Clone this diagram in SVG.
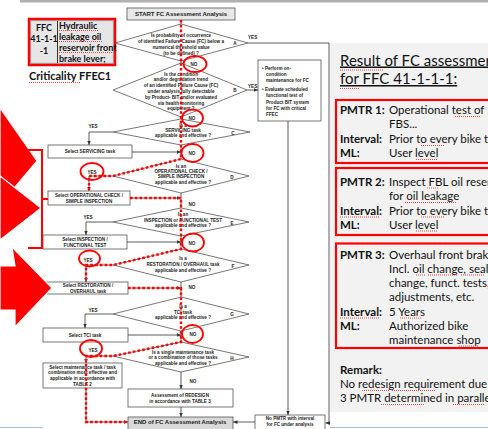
<svg xmlns="http://www.w3.org/2000/svg" width="488" height="429" viewBox="0 0 488 429">
<defs>
<marker id="arr" markerUnits="userSpaceOnUse" markerWidth="4.5" markerHeight="4.5" viewBox="0 0 6 6" refX="6" refY="3" orient="auto"><path d="M0,0.5 L6,3 L0,5.5z" fill="#333"/></marker>
<style>
.fc{font-family:"Liberation Sans",Arial,sans-serif;font-size:4.6px;font-weight:bold;fill:#222;text-anchor:middle}
.st{text-anchor:start}
.big{font-size:6px}
.box{fill:#fff;stroke:#555;stroke-width:0.8}
.dia{fill:#fff;stroke:#555;stroke-width:0.8}
.ln{fill:none;stroke:#333;stroke-width:0.8}
.red{fill:none;stroke:#f00;stroke-width:2.4;stroke-dasharray:2.6 2.2}
.ring{fill:none;stroke:#f00;stroke-width:1.8}
.pan{font-family:Lato,"Liberation Sans",sans-serif;font-size:11.5px;fill:#111}
.head{font-size:15px;text-decoration:underline}
.b{font-weight:bold}
.frame{fill:none;stroke:#f00;stroke-width:2.2}
.sp{fill:none;stroke:#e33;stroke-width:0.9;stroke-dasharray:1 1}
</style>
</defs>
<rect width="488" height="429" fill="#fff"/>
<rect x="20" y="0" width="468" height="2.5" fill="#b0b0b0"/>

<!-- flowchart nodes -->
<g id="start"><rect class="box" x="127" y="8" width="108" height="12" style="fill:#e8e8e8"/><text class="fc big" x="181" y="16.3">START  FC Assessment Analysis</text></g>

<g id="decA"><polygon class="dia" points="181,24 248,43 181,61 115,43"/>
<text class="fc" x="181" y="36.6">Is probability of occurrence</text>
<text class="fc" x="181" y="42.6">of identified Failure Cause (FC) below a</text>
<text class="fc" x="181" y="48.6">numerical threshold value</text>
<text class="fc" x="181" y="54.6">(to be defined) ?</text>
<text class="fc" x="235" y="44.6">A</text></g>

<g id="decB"><polygon class="dia" points="181,63 247,90 181,117 113,90"/>
<text class="fc" x="181" y="75.6">Is the condition</text>
<text class="fc" x="181" y="81.4">and/or degradation trend</text>
<text class="fc" x="181" y="87.2">of an identified Failure Cause (FC)</text>
<text class="fc" x="181" y="93">under analysis fully detectable</text>
<text class="fc" x="181" y="98.8">by Product- BIT and/or evaluated</text>
<text class="fc" x="181" y="104.6">via health monitoring</text>
<text class="fc" x="181" y="110.4">equipment ?</text>
<text class="fc" x="235" y="91.6">B</text></g>

<g id="onCondition"><rect class="box" x="258" y="60" width="63" height="61"/>
<text class="fc st" x="262" y="69.9">• Perform on-</text>
<text class="fc st" x="266" y="75.6">condition</text>
<text class="fc st" x="266" y="81.6">maintenance for FC</text>
<text class="fc st" x="262" y="90.9">• Evaluate scheduled</text>
<text class="fc st" x="266" y="97.4">functional test of</text>
<text class="fc st" x="266" y="103.6">Product BIT system</text>
<text class="fc st" x="266" y="109.6">for FC with critical</text>
<text class="fc st" x="266" y="115.6">FFEC</text></g>

<g id="decC"><polygon class="dia" points="181,119 250,132 181,145 113,132"/>
<text class="fc" x="183" y="126.6">Is a</text>
<text class="fc" x="183" y="131.6">SERVICING task</text>
<text class="fc" x="183" y="137.1">applicable  and effective  ?</text>
<text class="fc" x="233" y="134.6">C</text></g>

<g id="servicing"><rect class="box" x="48" y="145" width="84" height="13"/><text class="fc" x="90" y="153.2">Select SERVICING task</text></g>

<g id="decD"><polygon class="dia" points="181,159 249,176 181,193 113,176"/>
<text class="fc" x="181" y="167.6">Is an</text>
<text class="fc" x="181" y="172.6">OPERATIONAL CHECK /</text>
<text class="fc" x="181" y="178.1">SIMPLE INSPECTION</text>
<text class="fc" x="183" y="183.6">applicable  and effective  ?</text>
<text class="fc" x="232" y="178.6">D</text></g>

<g id="operational"><rect class="box" x="48" y="191" width="82" height="14"/>
<text class="fc" x="89" y="196.6">Select OPERATIONAL CHECK /</text>
<text class="fc" x="89" y="202.6">SIMPLE INSPECTION</text></g>

<g id="decE"><polygon class="dia" points="181,208 249,222 181,236 113,222"/>
<text class="fc" x="183" y="215.6">Is an</text>
<text class="fc" x="183" y="221.6">INSPECTION or FUNCTIONAL TEST</text>
<text class="fc" x="183" y="226.6">applicable  and effective  ?</text>
<text class="fc" x="232" y="224.6">E</text></g>

<g id="inspection"><rect class="box" x="43" y="235" width="84" height="14"/>
<text class="fc" x="85" y="240.6">Select INSPECTION /</text>
<text class="fc" x="85" y="246.6">FUNCTIONAL  TEST</text></g>

<g id="decF"><polygon class="dia" points="181,249 249,265 181,282 113,265"/>
<text class="fc" x="183" y="259.6">Is a</text>
<text class="fc" x="183" y="265.6">RESTORATION / OVERHAUL task</text>
<text class="fc" x="183" y="271.6">applicable  and effective  ?</text>
<text class="fc" x="233" y="267.6">F</text></g>

<g id="restoration"><rect class="box" x="47" y="282" width="81" height="12"/>
<text class="fc" x="88" y="287.4">Select RESTORATION /</text>
<text class="fc" x="88" y="293">OVERHAUL task</text></g>

<g id="decG"><polygon class="dia" points="181,297 249,314 181,331 113,314"/>
<text class="fc" x="183" y="307.6">Is a</text>
<text class="fc" x="183" y="313.6">TCI  task</text>
<text class="fc" x="183" y="318.6">applicable  and effective  ?</text>
<text class="fc" x="232" y="315.6">G</text></g>

<g id="tci"><rect class="box" x="43" y="328" width="85" height="14"/><text class="fc" x="85" y="336.6">Select TCI  task</text></g>

<g id="decH"><polygon class="dia" points="181,342 249,357 181,372 113,356"/>
<text class="fc" x="183" y="353.6">Is a single maintenance task</text>
<text class="fc" x="183" y="359.1">or a combination of those tasks</text>
<text class="fc" x="183" y="364.6">applicable  and effective  ?</text>
<text class="fc" x="232" y="359.6">H</text></g>

<g id="selectCombination"><rect class="box" x="43" y="363" width="79" height="25"/>
<text class="fc" x="82.5" y="368.6">Select maintenance task / task</text>
<text class="fc" x="82.5" y="374.4">combination most effective and</text>
<text class="fc" x="82.5" y="380.1">applicable in accordance with</text>
<text class="fc" x="82.5" y="385.8">TABLE 2</text></g>

<g id="redesign"><rect class="box" x="128" y="389" width="105" height="18"/>
<text class="fc" x="180" y="397.4">Assessment  of REDESIGN</text>
<text class="fc" x="180" y="403">in accordance with TABLE 3</text></g>

<g id="end"><rect class="box" x="128" y="417" width="105" height="16" style="fill:#d9d9d9"/><text class="fc big" x="180" y="424.3">END of FC Assessment Analysis</text></g>

<g id="noPmtr"><rect class="box" x="255" y="415" width="70" height="20"/>
<text class="fc" x="290" y="419.6">No PMTR with interval</text>
<text class="fc" x="290" y="426">for FC under analysis</text></g>

<!-- connectors -->
<g id="connectors">
<path class="ln" d="M181,20 V24 M181,61 V63 M181,117 V119 M181,145 V159 M181,193 V208 M181,236 V249 M181,282 V297 M181,331 V342"/>
<path class="ln" d="M248,43 H329 V423 H325.5" marker-end="url(#arr)"/>
<path class="ln" d="M247,90 H258" marker-end="url(#arr)"/>
<path class="ln" d="M288,121 V415" marker-end="url(#arr)"/>
<path class="ln" d="M113,132 H89 V145" marker-end="url(#arr)"/>
<path class="ln" d="M132,152 H181" marker-end="url(#arr)"/>
<path class="ln" d="M113,176 H89 V191" marker-end="url(#arr)"/>
<path class="ln" d="M130,198 H181" marker-end="url(#arr)"/>
<path class="ln" d="M113,222 H86 V235" marker-end="url(#arr)"/>
<path class="ln" d="M127,242 H181" marker-end="url(#arr)"/>
<path class="ln" d="M113,265 H86 V282" marker-end="url(#arr)"/>
<path class="ln" d="M128,288 H181" marker-end="url(#arr)"/>
<path class="ln" d="M113,314 H85 V328" marker-end="url(#arr)"/>
<path class="ln" d="M128,335 H181" marker-end="url(#arr)"/>
<path class="ln" d="M113,356 H86 V363" marker-end="url(#arr)"/>
<path class="ln" d="M181,372 V389" marker-end="url(#arr)"/>
<path class="ln" d="M181,407 V417" marker-end="url(#arr)"/>
<path class="ln" d="M86,388 V422 H128" marker-end="url(#arr)"/>
<path class="ln" d="M255,422 H233" marker-end="url(#arr)"/>
<text class="fc st" x="248" y="38.6">YES</text>
<text class="fc st" x="248" y="87.6">YES</text>
<text class="fc" x="93" y="127.6">YES</text>
<text class="fc" x="88" y="218.6">YES</text>
<text class="fc" x="93" y="311.6">YES</text>
<text class="fc" x="192" y="205.6">NO</text>
<text class="fc" x="192" y="288.6">NO</text>
<text class="fc" x="193" y="382.6">NO</text>
</g>

<!-- highlighted path -->
<g id="path">
<path class="red" d="M181,20 V159 L113,176 H89 V191"/>
<path class="red" d="M130,198 H181 V249 L113,265 H86 V282"/>
<path class="red" d="M128,288 H181 V342 L113,356 H86 V422 H128"/>
<ellipse class="ring" cx="195" cy="64" rx="11.5" ry="8"/><text class="fc" x="194" y="65.6">NO</text>
<ellipse class="ring" cx="192.5" cy="118" rx="10.5" ry="8.5"/><text class="fc" x="192" y="119.6">NO</text>
<ellipse class="ring" cx="192.5" cy="153" rx="11" ry="9"/><text class="fc" x="192" y="154.6">NO</text>
<ellipse class="ring" cx="193" cy="242.5" rx="11" ry="9"/><text class="fc" x="192" y="244.6">NO</text>
<ellipse class="ring" cx="192.5" cy="334" rx="10.5" ry="9"/><text class="fc" x="193" y="335.6">NO</text>
<ellipse class="ring" cx="92" cy="171.5" rx="11.5" ry="8.5"/><text class="fc" x="92" y="173.6">YES</text>
<ellipse class="ring" cx="89.5" cy="258.5" rx="10.5" ry="8"/><text class="fc" x="88" y="261.6">YES</text>
<ellipse class="ring" cx="91" cy="348.5" rx="11" ry="8.5"/><text class="fc" x="93" y="351.6">YES</text>
</g>

<!-- pointers on the left -->
<g id="pointers" fill="#f00" stroke="#fff" stroke-width="1.2">
<polygon points="0,108 37,161 0,205"/>
<polygon points="0,176 41,208 0,240"/>
<polygon points="0,266 15,266 12,247 52,288 15,327 15,310 0,310"/>
<path d="M28,150 H42 V248 H28 M42,199 H48" fill="none" stroke="#f00" stroke-width="2"/>
</g>

<!-- failure cause card -->
<g id="ffc">
<rect x="29" y="19" width="86" height="46" fill="#e6e6e6" stroke="#f00" stroke-width="2.5"/>
<rect x="30.8" y="20.8" width="82.4" height="42.4" fill="none" stroke="#777" stroke-width="0.6"/>
<line x1="57.5" y1="21" x2="57.5" y2="63" stroke="#333" stroke-width="1"/>
<g font-family="Lato,'Liberation Sans',sans-serif" font-weight="bold" font-size="9px" fill="#111">
<text x="44" y="31" text-anchor="middle">FFC</text>
<text x="44" y="42" text-anchor="middle">41-1-1</text>
<text x="44" y="54" text-anchor="middle">-1</text>
<text x="59" y="28.5">Hydraulic</text>
<text x="59" y="39.5">leakage oil</text>
<text x="59" y="50.5">reservoir front</text>
<text x="59" y="61.5">brake lever;</text>
</g>
<path class="sp" d="M59,30.5 H98 M59,41.5 H103 M59,52.5 H112"/>
<text x="29" y="80" font-family="Lato,'Liberation Sans',sans-serif" font-weight="bold" font-size="11px" fill="#111">Criticality FFEC1</text>
<path class="sp" d="M29,82.5 H81"/>
</g>

<!-- result panel -->
<g id="result">
<rect x="330" y="43" width="158" height="369" fill="#f2f2f2"/>
<text class="pan head" x="340" y="65.5">Result of FC assessment</text>
<text class="pan head" x="340" y="84">for FFC 41-1-1-1:</text>
<path class="sp" d="M340,70 H384 M340,88.5 H360"/>
<rect class="frame" x="336" y="100" width="160" height="63"/>
<text class="pan b" x="340" y="113.5">PMTR 1:</text><text class="pan" x="389" y="113.5">Operational test of</text>
<text class="pan" x="389" y="128.2">FBS...</text>
<text class="pan b" x="340" y="142.9">Interval:</text><text class="pan" x="389" y="142.9">Prior to every bike to</text>
<text class="pan b" x="340" y="157">ML:</text><text class="pan" x="389" y="157">User level</text>
<rect class="frame" x="336" y="168" width="160" height="67"/>
<text class="pan b" x="340" y="185.5">PMTR 2:</text><text class="pan" x="389" y="185.5">Inspect FBL oil reservoir</text>
<text class="pan" x="389" y="200">for oil leakage</text>
<text class="pan b" x="340" y="214.5">Interval:</text><text class="pan" x="389" y="214.5">Prior to every bike to</text>
<text class="pan b" x="340" y="228.8">ML:</text><text class="pan" x="389" y="228.8">User level</text>
<rect class="frame" x="336" y="243.5" width="160" height="104.5"/>
<text class="pan b" x="340" y="258.5">PMTR 3:</text><text class="pan" x="389" y="258.5">Overhaul front brake</text>
<text class="pan" x="389" y="272.8">Incl. oil change, seal</text>
<text class="pan" x="389" y="287">change, funct. tests,</text>
<text class="pan" x="389" y="301.3">adjustments, etc.</text>
<text class="pan b" x="340" y="315.6">Interval:</text><text class="pan" x="389" y="315.6">5 Years</text>
<text class="pan b" x="340" y="329.9">ML:</text><text class="pan" x="389" y="329.9">Authorized bike</text>
<text class="pan" x="389" y="344">maintenance  shop</text>
<text class="pan b" x="340" y="373.5">Remark:</text>
<text class="pan" x="340" y="388">No redesign requirement due to</text>
<text class="pan" x="340" y="402.3">3 PMTR determined in parallel</text>
<path class="sp" d="M455,116.5 H481 M421,145.5 H444 M416,159.5 H437 M427,188 H439 M405,202.5 H457 M340,217 H380 M421,217 H444 M416,231 H437 M416,275 H426 M428,275 H458 M461,275 H484 M340,318 H380 M400,318 H421 M459,346 H479 M362,390.5 H390 M392,390.5 H436 M381,404.5 H425 M453,404.5 H484"/>
</g>

<line x1="0" y1="427.5" x2="43" y2="427.5" stroke="#9dc3e6" stroke-width="1.2"/>
<line x1="330" y1="427.5" x2="488" y2="427.5" stroke="#9dc3e6" stroke-width="1.2"/>
</svg>
